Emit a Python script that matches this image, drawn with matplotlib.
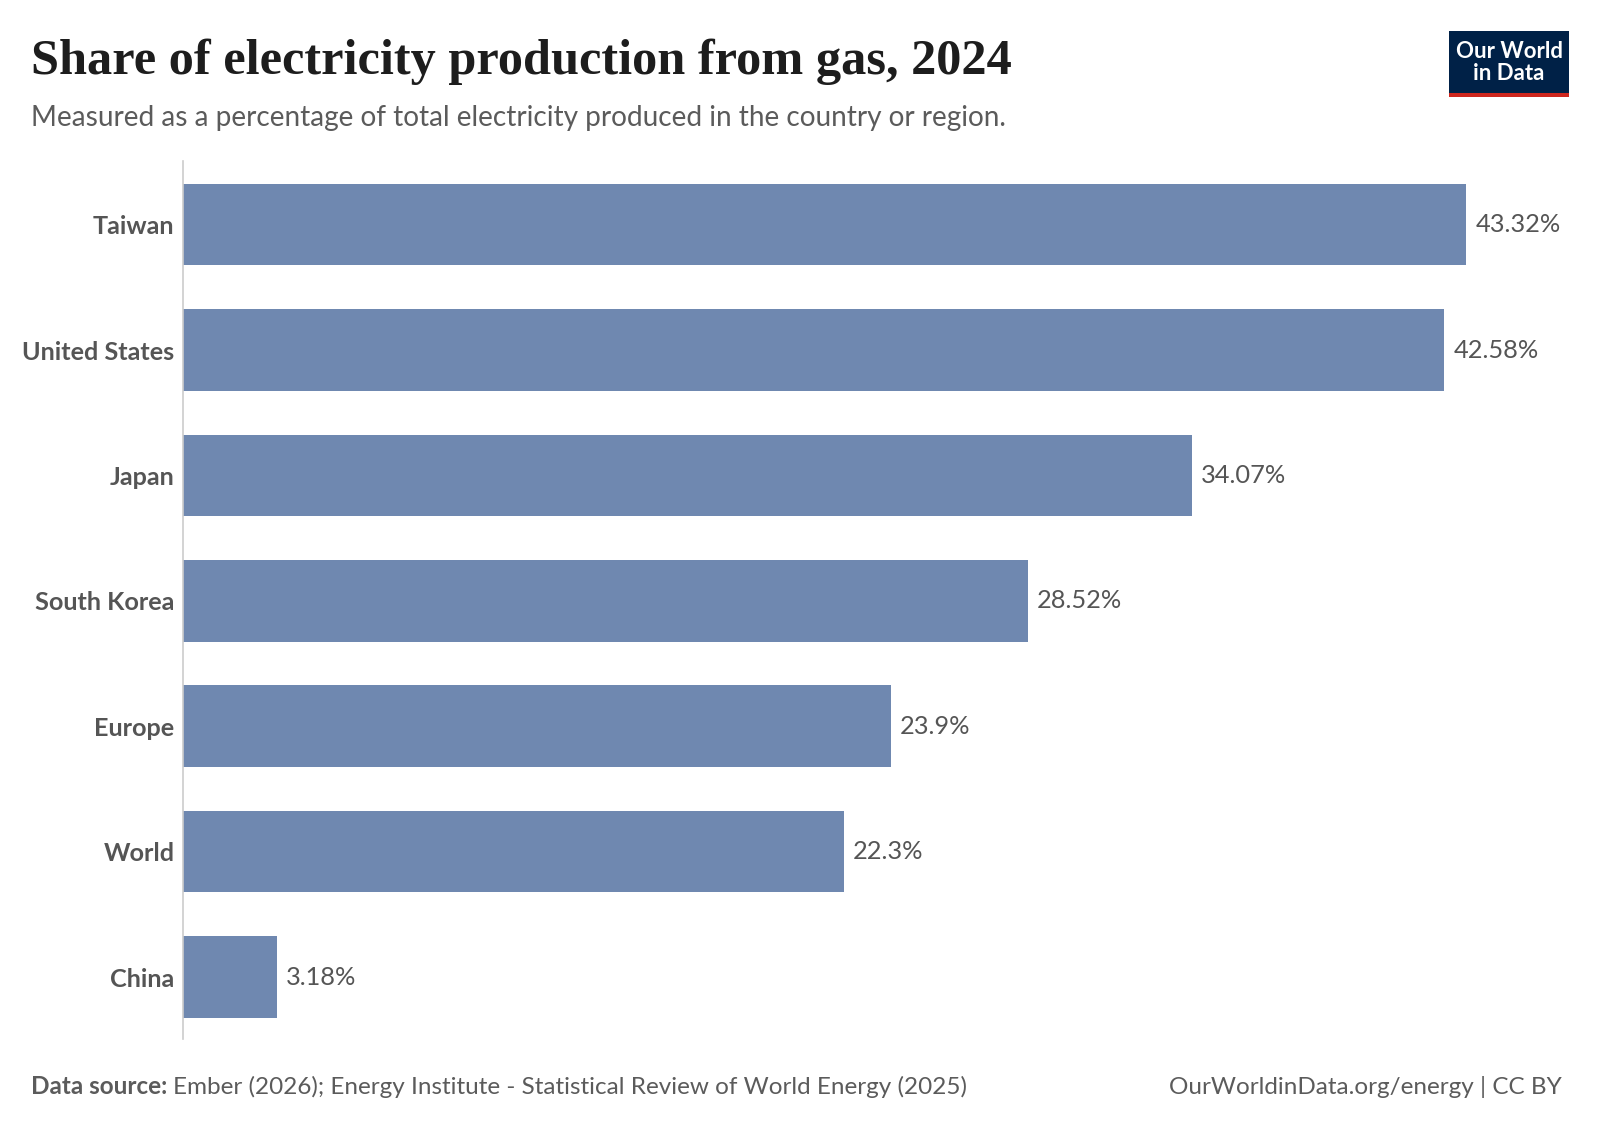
import matplotlib
matplotlib.use("Agg")
import matplotlib.pyplot as plt
from matplotlib.patches import Rectangle

countries = ["Taiwan", "United States", "Japan", "South Korea", "Europe", "World", "China"]
values = [43.32, 42.58, 34.07, 28.52, 23.9, 22.3, 3.18]
value_labels = ["43.32%", "42.58%", "34.07%", "28.52%", "23.9%", "22.3%", "3.18%"]

W, H = 1600, 1130
fig = plt.figure(figsize=(W / 100, H / 100), dpi=100)
fig.patch.set_facecolor("white")

ax_left, ax_right = 182.8, 1540
ax_top, ax_bottom = 161.3, 1039.4
ax = fig.add_axes([ax_left / W, 1 - ax_bottom / H, (ax_right - ax_left) / W, (ax_bottom - ax_top) / H])
px_per_unit = 29.63
ax.set_xlim(0, (ax_right - ax_left) / px_per_unit)
ax.set_ylim(6.497, -0.505)

ypos = list(range(len(countries)))
ax.barh(ypos, values, height=0.651, color="#6F88B0", zorder=2)
for y, v, lab in zip(ypos, values, value_labels):
    ax.text(v + 0.3, y, lab, va="center", ha="left", fontsize=18.3, color="#555555", family="Lato")

ax.set_yticks(ypos)
ax.set_yticklabels(countries, fontsize=18.2, color="#555555", family="Lato", fontweight="bold")
ax.tick_params(axis="y", length=0, pad=6)
ax.set_xticks([])
for s in ["top", "right", "bottom"]:
    ax.spines[s].set_visible(False)
ax.spines["left"].set_color("#cccccc")
ax.spines["left"].set_linewidth(1.2)

# Title & subtitle
fig.text(31 / W, 1 - 62 / H, "Share of electricity production from gas, 2024", fontsize=36.3,
         family="Liberation Serif", fontweight="bold", color="#1d1d1d", va="center", ha="left")
fig.text(31 / W, 1 - 118 / H, "Measured as a percentage of total electricity produced in the country or region.",
         fontsize=20.2, family="Lato", color="#5b5b5b", va="center", ha="left")

# Footer
fy = 1087
t1 = fig.text(31 / W, 1 - fy / H, "Data source:", fontsize=17.5, family="Lato", fontweight="bold",
              color="#5b5b5b", va="center", ha="left")
fig.canvas.draw()
bb = t1.get_window_extent()
fig.text((bb.x1 + 6) / W, 1 - fy / H, "Ember (2026); Energy Institute - Statistical Review of World Energy (2025)",
         fontsize=17.5, family="Lato", color="#5b5b5b", va="center", ha="left")
fig.text(1562 / W, 1 - fy / H, "OurWorldinData.org/energy | CC BY", fontsize=17.5, family="Lato",
         color="#5b5b5b", va="center", ha="right")

# Logo
lx0, lx1, ly0, ly1 = 1449, 1569, 31, 97
fig.patches.append(Rectangle((lx0 / W, 1 - ly1 / H), (lx1 - lx0) / W, (ly1 - ly0) / H,
                             transform=fig.transFigure, facecolor="#002147", edgecolor="none"))
fig.patches.append(Rectangle((lx0 / W, 1 - ly1 / H), (lx1 - lx0) / W, 4 / H,
                             transform=fig.transFigure, facecolor="#ce261e", edgecolor="none"))
fig.text((lx0 + lx1) / 2 / W, 1 - 51 / H, "Our World", fontsize=16, family="Lato", fontweight="bold",
         color="white", va="center", ha="center")
fig.text((lx0 + lx1) / 2 / W, 1 - 74 / H, "in Data", fontsize=16, family="Lato", fontweight="bold",
         color="white", va="center", ha="center")

fig.savefig("out.png", dpi=100, facecolor="white")
